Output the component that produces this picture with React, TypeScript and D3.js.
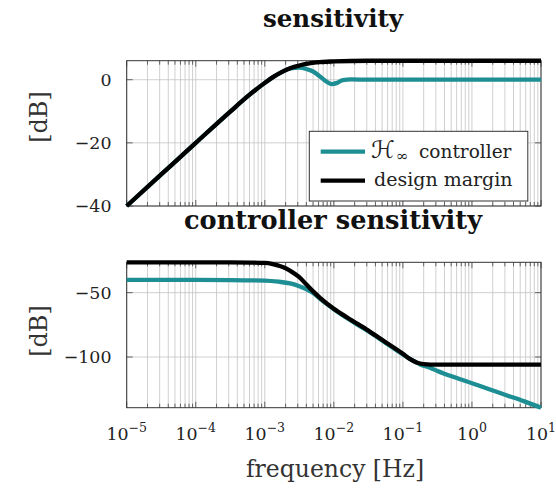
import React from 'react';
import * as d3 from 'd3';

// ---- data ----
// top panel: sensitivity [dB]
const sensHinfFreq = [1e-5, 3.16e-5, 1e-4, 3.16e-4, 5.62e-4, 1e-3, 1.33e-3, 1.78e-3, 2.37e-3, 3.16e-3, 3.98e-3, 5.01e-3, 6.31e-3, 7.94e-3, 9.33e-3, 1.12e-2, 1.35e-2, 1.78e-2, 3.16e-2, 0.1, 1, 10];
const sensHinf = [-40, -30, -20, -10.1, -5.3, -1.0, 0.9, 2.5, 3.6, 3.8, 3.4, 2.6, 1.0, -0.7, -1.4, -1.0, -0.1, 0.1, 0, 0, 0, 0];
const sensMarginFreq = [1e-5, 3.16e-5, 1e-4, 3.16e-4, 5.62e-4, 1e-3, 1.33e-3, 1.78e-3, 2.37e-3, 3.16e-3, 4.2e-3, 5.62e-3, 1e-2, 3.16e-2, 0.1, 1, 10];
const sensMargin = [-40, -30, -20, -10.1, -5.3, -1.0, 0.9, 2.5, 3.7, 4.5, 5.1, 5.5, 5.8, 6.0, 6.0, 6.0, 6.0];

// bottom panel: controller sensitivity [dB]
const ctrlHinfFreq = [1e-5, 1e-4, 3.16e-4, 1e-3, 1.58e-3, 2.5e-3, 3.16e-3, 3.98e-3, 5.01e-3, 6.31e-3, 1e-2, 1.58e-2, 3.16e-2, 5.62e-2, 0.1, 0.126, 0.158, 0.178, 0.251, 0.316, 0.562, 1, 1.78, 3.16, 5.62, 10];
const ctrlHinf = [-40.1, -40.1, -40.2, -40.6, -41.5, -43.2, -45.0, -47.3, -50.3, -54.8, -62.8, -70.0, -80.0, -89.0, -98.0, -101.5, -104.3, -105.8, -108.5, -110.8, -115.8, -120.4, -125.0, -129.7, -134.3, -139.4];
const ctrlMarginFreq = [1e-5, 1e-4, 3.16e-4, 6.3e-4, 1e-3, 1.26e-3, 1.58e-3, 2e-3, 2.5e-3, 3.16e-3, 3.98e-3, 5.01e-3, 6.31e-3, 1e-2, 1.58e-2, 3.16e-2, 5.62e-2, 0.1, 0.126, 0.158, 0.2, 0.316, 1, 10];
const ctrlMargin = [-26.5, -26.5, -26.5, -26.6, -26.9, -27.6, -29.0, -31.0, -34.0, -38.0, -43.5, -49.0, -54.0, -62.5, -69.5, -79.5, -88.5, -97.5, -101.5, -104.3, -105.5, -106.0, -106.0, -106.0];

const xTickExps = [-5, -4, -3, -2, -1, 0, 1];
const sensYTicks = [0, -20, -40];
const ctrlYTicks = [-50, -100];
const sensYDomain = [-40, 6.02];
const ctrlYDomain = [-139.4, -26.4];
const xDomain = [1e-5, 10];

const seriesNames = ['controller', 'design margin'];

const TEAL = '#1d8e93';
const W = 556, H = 491;
const L = 126.7, R = 541;
const FONT = '"DejaVu Serif", serif';
const LW = 4.3;

const x = d3.scaleLog().domain(xDomain).range([L, R]);

function Panel({ top, bottom, yDomain, yTicks, hinfF, hinf, marF, mar }: any) {
  const y = d3.scaleLinear().domain(yDomain).range([bottom, top]);
  const line = d3.line<[number, number]>().x(d => x(d[0])).y(d => y(d[1])).curve(d3.curveMonotoneX);
  const hinfPts: [number, number][] = hinfF.map((f: number, i: number) => [f, hinf[i]]);
  const marPts: [number, number][] = marF.map((f: number, i: number) => [f, mar[i]]);
  const allX = x.ticks();
  const majors = xTickExps.map(e => Math.pow(10, e));
  const isMajor = (v: number) => majors.some(m => Math.abs(Math.log10(v) - Math.log10(m)) < 1e-6);
  return (
    <g>
      {allX.map((v, i) => (
        <line key={'g' + i} x1={x(v)} x2={x(v)} y1={top} y2={bottom} stroke="#c4c4c4" strokeWidth={0.8} />
      ))}
      {yTicks.map((t: number) => (
        <line key={'gy' + t} x1={L} x2={R} y1={y(t)} y2={y(t)} stroke="#c4c4c4" strokeWidth={0.8} />
      ))}
      {allX.map((v, i) => {
        const len = isMajor(v) ? 6 : 4;
        return (
          <g key={'t' + i}>
            <line x1={x(v)} x2={x(v)} y1={top} y2={top + len} stroke="#444" strokeWidth={0.8} />
            <line x1={x(v)} x2={x(v)} y1={bottom} y2={bottom - len} stroke="#444" strokeWidth={0.8} />
          </g>
        );
      })}
      {yTicks.map((t: number) => (
        <g key={'ty' + t}>
          <line x1={L} x2={L + 6} y1={y(t)} y2={y(t)} stroke="#444" strokeWidth={0.8} />
          <line x1={R} x2={R - 6} y1={y(t)} y2={y(t)} stroke="#444" strokeWidth={0.8} />
          <text x={111.5} y={y(t)} dy="0.36em" textAnchor="end" fontFamily={FONT} fontSize={17.4} fill="#222">
            {t < 0 ? '\u2212' + Math.abs(t) : String(t)}
          </text>
        </g>
      ))}
      <rect x={L} y={top} width={R - L} height={bottom - top} fill="none" stroke="#333" strokeWidth={1} />
      <path d={line(hinfPts) || ''} fill="none" stroke={TEAL} strokeWidth={LW} strokeLinejoin="round" />
      <path d={line(marPts) || ''} fill="none" stroke="#000" strokeWidth={LW} strokeLinejoin="round" />
    </g>
  );
}

export default function App() {
  return (
    <svg width={W} height={H} style={{ position: 'absolute', left: 0, top: 0, background: '#fff' }}>
      <rect width={W} height={H} fill="#fff" />
      <text x={333} y={27} textAnchor="middle" fontFamily={FONT} fontWeight="bold" fontSize={24.5} fill="#111">sensitivity</text>
      <text x={333} y={229} textAnchor="middle" fontFamily={FONT} fontWeight="bold" fontSize={25.6} fill="#111">controller sensitivity</text>

      <Panel top={60.7} bottom={206} yDomain={sensYDomain} yTicks={sensYTicks}
        hinfF={sensHinfFreq} hinf={sensHinf} marF={sensMarginFreq} mar={sensMargin} />
      <Panel top={262.3} bottom={407.7} yDomain={ctrlYDomain} yTicks={ctrlYTicks}
        hinfF={ctrlHinfFreq} hinf={ctrlHinf} marF={ctrlMarginFreq} mar={ctrlMargin} />

      <text transform="translate(47,117) rotate(-90)" textAnchor="middle" fontFamily={FONT} fontSize={24} fill="#333">[dB]</text>
      <text transform="translate(47,331) rotate(-90)" textAnchor="middle" fontFamily={FONT} fontSize={24} fill="#333">[dB]</text>

      {xTickExps.map(e => (
        <text key={e} x={x(Math.pow(10, e))} y={439.5} textAnchor="middle" fontFamily={FONT} fontSize={17.4} fill="#222">
          10<tspan dy={-7.5} fontSize={12.5}>{e < 0 ? '\u2212' + Math.abs(e) : String(e)}</tspan>
        </text>
      ))}
      <text x={335} y={477} textAnchor="middle" fontFamily={FONT} fontSize={23.5} fill="#333">frequency [Hz]</text>

      {/* legend */}
      <rect x={309.3} y={131.3} width={218.5} height={69.7} fill="#fff" stroke="#333" strokeWidth={1} />
      <line x1={320.7} x2={365} y1={151.7} y2={151.7} stroke={TEAL} strokeWidth={LW} />
      <text x={371} y={158} fontSize={24} fill="#222" fontFamily='"DejaVu Sans", sans-serif' fontStyle="italic">{'\u210B'}</text>
      <text x={396} y={161} fontSize={15} fill="#222" fontFamily={FONT}>{'\u221E'}</text>
      <text x={419} y={157.5} fontSize={18.5} fill="#222" fontFamily={FONT}>{seriesNames[0]}</text>
      <line x1={320.7} x2={365} y1={180.7} y2={180.7} stroke="#000" strokeWidth={LW} />
      <text x={374} y={186} fontFamily={FONT} fontSize={19} fill="#222">{seriesNames[1]}</text>
    </svg>
  );
}
